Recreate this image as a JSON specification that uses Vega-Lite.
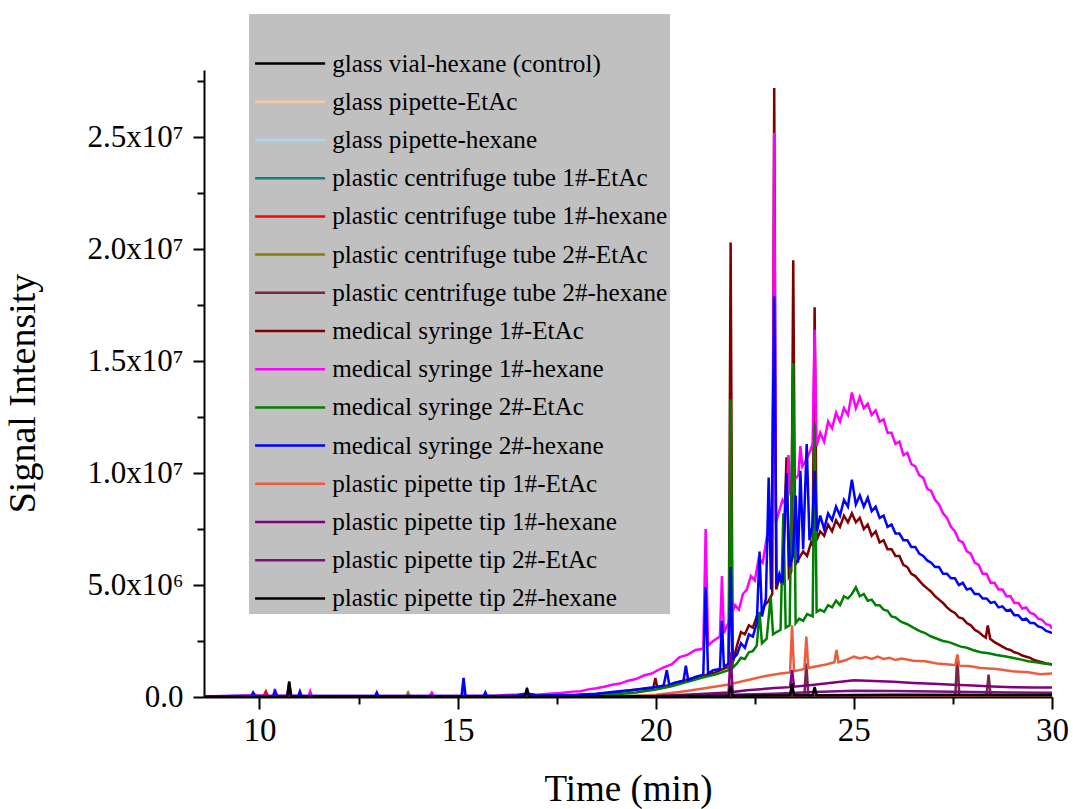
{
"$schema": "https://vega.github.io/schema/vega-lite/v6.json",
"width": 848, "height": 627,
"autosize": {"type": "none"},
"padding": {"left": 204, "top": 70, "right": 21, "bottom": 112},
"background": "white",
"config": {"view": {"stroke": null}, "font": "Liberation Serif"},
"data": {"values": [
{"id":"GV","t":8.6,"v":2e4},{"id":"GV","t":12,"v":3e4},{"id":"GV","t":16,"v":3e4},{"id":"GV","t":20,"v":5e4},{"id":"GV","t":23,"v":6e4},{"id":"GV","t":26,"v":6e4},{"id":"GV","t":30,"v":5e4},
{"id":"GPE","t":8.6,"v":1e4},{"id":"GPE","t":14,"v":2e4},{"id":"GPE","t":20,"v":4e4},{"id":"GPE","t":25,"v":5e4},{"id":"GPE","t":30,"v":4e4},
{"id":"GPH","t":8.6,"v":1e4},{"id":"GPH","t":15,"v":2e4},{"id":"GPH","t":22,"v":4e4},{"id":"GPH","t":30,"v":3e4},
{"id":"C1E","t":8.6,"v":1e4},{"id":"C1E","t":15,"v":2e4},{"id":"C1E","t":22,"v":5e4},{"id":"C1E","t":26,"v":6e4},{"id":"C1E","t":30,"v":5e4},
{"id":"C1H","t":8.6,"v":1e4},{"id":"C1H","t":10.1,"v":2e4},{"id":"C1H","t":10.16,"v":2.5e5},{"id":"C1H","t":10.22,"v":2e4},{"id":"C1H","t":14,"v":2e4},{"id":"C1H","t":22,"v":4e4},{"id":"C1H","t":30,"v":4e4},
{"id":"C2E","t":8.6,"v":1e4},{"id":"C2E","t":13.7,"v":2e4},{"id":"C2E","t":13.75,"v":2e5},{"id":"C2E","t":13.8,"v":2e4},{"id":"C2E","t":22,"v":5e4},{"id":"C2E","t":26,"v":7e4},{"id":"C2E","t":30,"v":6e4},
{"id":"C2H","t":8.6,"v":1e4},{"id":"C2H","t":20,"v":3e4},{"id":"C2H","t":23.75,"v":5e4},{"id":"C2H","t":23.8,"v":1.5e6},{"id":"C2H","t":23.85,"v":5e4},{"id":"C2H","t":27.56,"v":8e4},{"id":"C2H","t":27.61,"v":1.85e6},{"id":"C2H","t":27.66,"v":8e4},{"id":"C2H","t":28.35,"v":8e4},{"id":"C2H","t":28.4,"v":1.0e6},{"id":"C2H","t":28.45,"v":8e4},{"id":"C2H","t":30,"v":8e4},
{"id":"S1E","t":8.6,"v":1e4},{"id":"S1E","t":10.7,"v":2e4},{"id":"S1E","t":10.75,"v":5e5},{"id":"S1E","t":10.8,"v":2e4},{"id":"S1E","t":12,"v":2e4},{"id":"S1E","t":15,"v":3e4},{"id":"S1E","t":16.7,"v":3e4},{"id":"S1E","t":16.75,"v":3e5},{"id":"S1E","t":16.8,"v":3e4},{"id":"S1E","t":17.5,"v":5e4},{"id":"S1E","t":18.0,"v":8e4},{"id":"S1E","t":18.5,"v":1.3e5},{"id":"S1E","t":19.0,"v":2.0e5},{"id":"S1E","t":19.5,"v":3.3e5},{"id":"S1E","t":19.94,"v":4.0e5},{"id":"S1E","t":19.99,"v":8.5e5},{"id":"S1E","t":20.04,"v":4.3e5},{"id":"S1E","t":20.3,"v":5.2e5},{"id":"S1E","t":20.6,"v":6.8e5},{"id":"S1E","t":20.9,"v":8.3e5},{"id":"S1E","t":21.2,"v":9.5e5},{"id":"S1E","t":21.5,"v":1.1e6},{"id":"S1E","t":21.84,"v":1.35e6},{"id":"S1E","t":21.89,"v":2.03e7},{"id":"S1E","t":21.94,"v":1.5e6},{"id":"S1E","t":22.05,"v":2.3e6},{"id":"S1E","t":22.15,"v":2.9e6},{"id":"S1E","t":22.25,"v":2.8e6},{"id":"S1E","t":22.35,"v":3.2e6},{"id":"S1E","t":22.45,"v":3.1e6},{"id":"S1E","t":22.55,"v":3.6e6},{"id":"S1E","t":22.65,"v":3.7e6},{"id":"S1E","t":22.75,"v":4.1e6},{"id":"S1E","t":22.85,"v":4.3e6},{"id":"S1E","t":22.94,"v":4.6e6},{"id":"S1E","t":22.99,"v":2.72e7},{"id":"S1E","t":23.04,"v":4.8e6},{"id":"S1E","t":23.12,"v":5.3e6},{"id":"S1E","t":23.2,"v":5.0e6},{"id":"S1E","t":23.3,"v":1.07e7},{"id":"S1E","t":23.36,"v":5.4e6},{"id":"S1E","t":23.42,"v":5.6e6},{"id":"S1E","t":23.47,"v":1.95e7},{"id":"S1E","t":23.52,"v":5.9e6},{"id":"S1E","t":23.62,"v":6.2e6},{"id":"S1E","t":23.72,"v":6.5e6},{"id":"S1E","t":23.82,"v":6.3e6},{"id":"S1E","t":23.92,"v":6.9e6},{"id":"S1E","t":23.96,"v":6.8e6},{"id":"S1E","t":24.01,"v":1.74e7},{"id":"S1E","t":24.06,"v":7.0e6},{"id":"S1E","t":24.15,"v":7.4e6},{"id":"S1E","t":24.25,"v":7.2e6},{"id":"S1E","t":24.35,"v":7.7e6},{"id":"S1E","t":24.45,"v":7.4e6},{"id":"S1E","t":24.55,"v":7.9e6},{"id":"S1E","t":24.65,"v":7.6e6},{"id":"S1E","t":24.75,"v":8.1e6},{"id":"S1E","t":24.85,"v":7.8e6},{"id":"S1E","t":24.95,"v":8.2e6},{"id":"S1E","t":25.05,"v":7.8e6},{"id":"S1E","t":25.15,"v":8.0e6},{"id":"S1E","t":25.25,"v":7.5e6},{"id":"S1E","t":25.35,"v":7.7e6},{"id":"S1E","t":25.45,"v":7.2e6},{"id":"S1E","t":25.55,"v":7.4e6},{"id":"S1E","t":25.65,"v":6.9e6},{"id":"S1E","t":25.75,"v":7.0e6},{"id":"S1E","t":25.85,"v":6.6e6},{"id":"S1E","t":25.95,"v":6.6e6},{"id":"S1E","t":26.05,"v":6.3e6},{"id":"S1E","t":26.15,"v":6.3e6},{"id":"S1E","t":26.25,"v":5.9e6},{"id":"S1E","t":26.35,"v":5.8e6},{"id":"S1E","t":26.45,"v":5.5e6},{"id":"S1E","t":26.55,"v":5.4e6},{"id":"S1E","t":26.65,"v":5.2e6},{"id":"S1E","t":26.75,"v":5.0e6},{"id":"S1E","t":26.85,"v":4.85e6},{"id":"S1E","t":26.95,"v":4.7e6},{"id":"S1E","t":27.05,"v":4.5e6},{"id":"S1E","t":27.15,"v":4.35e6},{"id":"S1E","t":27.25,"v":4.2e6},{"id":"S1E","t":27.35,"v":4.0e6},{"id":"S1E","t":27.45,"v":3.85e6},{"id":"S1E","t":27.55,"v":3.75e6},{"id":"S1E","t":27.65,"v":3.55e6},{"id":"S1E","t":27.75,"v":3.5e6},{"id":"S1E","t":27.85,"v":3.3e6},{"id":"S1E","t":27.95,"v":3.2e6},{"id":"S1E","t":28.05,"v":3.0e6},{"id":"S1E","t":28.15,"v":2.9e6},{"id":"S1E","t":28.25,"v":2.75e6},{"id":"S1E","t":28.33,"v":2.65e6},{"id":"S1E","t":28.38,"v":3.2e6},{"id":"S1E","t":28.44,"v":2.6e6},{"id":"S1E","t":28.55,"v":2.45e6},{"id":"S1E","t":28.65,"v":2.35e6},{"id":"S1E","t":28.75,"v":2.25e6},{"id":"S1E","t":28.85,"v":2.15e6},{"id":"S1E","t":28.95,"v":2.1e6},{"id":"S1E","t":29.05,"v":2.0e6},{"id":"S1E","t":29.15,"v":1.95e6},{"id":"S1E","t":29.25,"v":1.85e6},{"id":"S1E","t":29.35,"v":1.8e6},{"id":"S1E","t":29.45,"v":1.75e6},{"id":"S1E","t":29.55,"v":1.65e6},{"id":"S1E","t":29.65,"v":1.6e6},{"id":"S1E","t":29.75,"v":1.55e6},{"id":"S1E","t":29.85,"v":1.5e6},{"id":"S1E","t":29.95,"v":1.47e6},{"id":"S1E","t":30.0,"v":1.45e6},
{"id":"S1H","t":8.6,"v":3e4},{"id":"S1H","t":9.2,"v":5e4},{"id":"S1H","t":9.84,"v":8e4},{"id":"S1H","t":10.2,"v":5e4},{"id":"S1H","t":10.35,"v":6e4},{"id":"S1H","t":10.39,"v":3.5e5},{"id":"S1H","t":10.43,"v":6e4},{"id":"S1H","t":10.7,"v":7e4},{"id":"S1H","t":10.75,"v":6e5},{"id":"S1H","t":10.8,"v":7e4},{"id":"S1H","t":11.24,"v":5e4},{"id":"S1H","t":11.28,"v":2.5e5},{"id":"S1H","t":11.32,"v":5e4},{"id":"S1H","t":12.0,"v":4e4},{"id":"S1H","t":13.0,"v":5e4},{"id":"S1H","t":14.3,"v":6e4},{"id":"S1H","t":14.35,"v":2e5},{"id":"S1H","t":14.4,"v":6e4},{"id":"S1H","t":15.1,"v":5e4},{"id":"S1H","t":15.15,"v":3e5},{"id":"S1H","t":15.2,"v":5e4},{"id":"S1H","t":16.0,"v":7e4},{"id":"S1H","t":16.5,"v":1.1e5},{"id":"S1H","t":16.75,"v":1.5e5},{"id":"S1H","t":17.0,"v":1.0e5},{"id":"S1H","t":17.3,"v":1.4e5},{"id":"S1H","t":17.6,"v":1.8e5},{"id":"S1H","t":17.9,"v":2.4e5},{"id":"S1H","t":18.1,"v":2.6e5},{"id":"S1H","t":18.3,"v":3.4e5},{"id":"S1H","t":18.5,"v":3.9e5},{"id":"S1H","t":18.7,"v":4.6e5},{"id":"S1H","t":18.9,"v":5.5e5},{"id":"S1H","t":19.1,"v":6.0e5},{"id":"S1H","t":19.3,"v":7.3e5},{"id":"S1H","t":19.5,"v":8.0e5},{"id":"S1H","t":19.7,"v":9.6e5},{"id":"S1H","t":19.9,"v":1.05e6},{"id":"S1H","t":20.0,"v":1.15e6},{"id":"S1H","t":20.2,"v":1.32e6},{"id":"S1H","t":20.4,"v":1.45e6},{"id":"S1H","t":20.6,"v":1.78e6},{"id":"S1H","t":20.8,"v":1.88e6},{"id":"S1H","t":21.0,"v":2.1e6},{"id":"S1H","t":21.2,"v":2.15e6},{"id":"S1H","t":21.26,"v":7.5e6},{"id":"S1H","t":21.32,"v":2.3e6},{"id":"S1H","t":21.45,"v":2.5e6},{"id":"S1H","t":21.62,"v":2.7e6},{"id":"S1H","t":21.67,"v":5.4e6},{"id":"S1H","t":21.72,"v":2.85e6},{"id":"S1H","t":21.85,"v":3.4e6},{"id":"S1H","t":22.0,"v":4.1e6},{"id":"S1H","t":22.1,"v":3.9e6},{"id":"S1H","t":22.2,"v":4.6e6},{"id":"S1H","t":22.3,"v":4.8e6},{"id":"S1H","t":22.4,"v":5.4e6},{"id":"S1H","t":22.5,"v":5.2e6},{"id":"S1H","t":22.6,"v":6.2e6},{"id":"S1H","t":22.7,"v":6.0e6},{"id":"S1H","t":22.8,"v":7.1e6},{"id":"S1H","t":22.9,"v":6.9e6},{"id":"S1H","t":22.95,"v":7.6e6},{"id":"S1H","t":22.99,"v":2.52e7},{"id":"S1H","t":23.03,"v":7.8e6},{"id":"S1H","t":23.1,"v":8.2e6},{"id":"S1H","t":23.2,"v":8.8e6},{"id":"S1H","t":23.3,"v":8.5e6},{"id":"S1H","t":23.35,"v":1.08e7},{"id":"S1H","t":23.4,"v":9.0e6},{"id":"S1H","t":23.5,"v":9.7e6},{"id":"S1H","t":23.6,"v":9.9e6},{"id":"S1H","t":23.65,"v":1.12e7},{"id":"S1H","t":23.7,"v":1.03e7},{"id":"S1H","t":23.8,"v":1.06e7},{"id":"S1H","t":23.9,"v":1.1e7},{"id":"S1H","t":23.96,"v":1.13e7},{"id":"S1H","t":24.01,"v":1.64e7},{"id":"S1H","t":24.06,"v":1.12e7},{"id":"S1H","t":24.15,"v":1.18e7},{"id":"S1H","t":24.25,"v":1.14e7},{"id":"S1H","t":24.35,"v":1.23e7},{"id":"S1H","t":24.45,"v":1.2e7},{"id":"S1H","t":24.55,"v":1.27e7},{"id":"S1H","t":24.65,"v":1.23e7},{"id":"S1H","t":24.75,"v":1.29e7},{"id":"S1H","t":24.85,"v":1.26e7},{"id":"S1H","t":24.95,"v":1.36e7},{"id":"S1H","t":25.05,"v":1.29e7},{"id":"S1H","t":25.15,"v":1.34e7},{"id":"S1H","t":25.25,"v":1.29e7},{"id":"S1H","t":25.35,"v":1.31e7},{"id":"S1H","t":25.45,"v":1.26e7},{"id":"S1H","t":25.55,"v":1.28e7},{"id":"S1H","t":25.65,"v":1.23e7},{"id":"S1H","t":25.75,"v":1.24e7},{"id":"S1H","t":25.85,"v":1.18e7},{"id":"S1H","t":25.95,"v":1.18e7},{"id":"S1H","t":26.05,"v":1.13e7},{"id":"S1H","t":26.15,"v":1.14e7},{"id":"S1H","t":26.25,"v":1.08e7},{"id":"S1H","t":26.35,"v":1.09e7},{"id":"S1H","t":26.45,"v":1.04e7},{"id":"S1H","t":26.55,"v":1.03e7},{"id":"S1H","t":26.65,"v":9.9e6},{"id":"S1H","t":26.75,"v":9.8e6},{"id":"S1H","t":26.85,"v":9.3e6},{"id":"S1H","t":26.95,"v":9.2e6},{"id":"S1H","t":27.05,"v":8.8e6},{"id":"S1H","t":27.15,"v":8.6e6},{"id":"S1H","t":27.25,"v":8.2e6},{"id":"S1H","t":27.35,"v":8.0e6},{"id":"S1H","t":27.45,"v":7.6e6},{"id":"S1H","t":27.55,"v":7.4e6},{"id":"S1H","t":27.65,"v":7.0e6},{"id":"S1H","t":27.75,"v":6.9e6},{"id":"S1H","t":27.85,"v":6.5e6},{"id":"S1H","t":27.95,"v":6.4e6},{"id":"S1H","t":28.05,"v":6.0e6},{"id":"S1H","t":28.15,"v":5.9e6},{"id":"S1H","t":28.25,"v":5.5e6},{"id":"S1H","t":28.35,"v":5.5e6},{"id":"S1H","t":28.45,"v":5.1e6},{"id":"S1H","t":28.55,"v":5.1e6},{"id":"S1H","t":28.65,"v":4.8e6},{"id":"S1H","t":28.75,"v":4.8e6},{"id":"S1H","t":28.85,"v":4.5e6},{"id":"S1H","t":28.95,"v":4.5e6},{"id":"S1H","t":29.05,"v":4.2e6},{"id":"S1H","t":29.15,"v":4.2e6},{"id":"S1H","t":29.25,"v":3.95e6},{"id":"S1H","t":29.35,"v":4.0e6},{"id":"S1H","t":29.45,"v":3.75e6},{"id":"S1H","t":29.55,"v":3.7e6},{"id":"S1H","t":29.65,"v":3.5e6},{"id":"S1H","t":29.75,"v":3.45e6},{"id":"S1H","t":29.85,"v":3.25e6},{"id":"S1H","t":29.95,"v":3.2e6},{"id":"S1H","t":30.0,"v":3.05e6},
{"id":"S2E","t":8.6,"v":1e4},{"id":"S2E","t":12,"v":2e4},{"id":"S2E","t":16,"v":3e4},{"id":"S2E","t":18,"v":5e4},{"id":"S2E","t":18.5,"v":8e4},{"id":"S2E","t":19,"v":1.2e5},{"id":"S2E","t":19.5,"v":2.0e5},{"id":"S2E","t":20.0,"v":3.3e5},{"id":"S2E","t":20.4,"v":4.8e5},{"id":"S2E","t":20.8,"v":6.8e5},{"id":"S2E","t":21.2,"v":8.8e5},{"id":"S2E","t":21.5,"v":1.0e6},{"id":"S2E","t":21.84,"v":1.2e6},{"id":"S2E","t":21.89,"v":1.33e7},{"id":"S2E","t":21.94,"v":1.3e6},{"id":"S2E","t":22.05,"v":1.5e6},{"id":"S2E","t":22.15,"v":1.75e6},{"id":"S2E","t":22.25,"v":1.7e6},{"id":"S2E","t":22.35,"v":2.0e6},{"id":"S2E","t":22.45,"v":2.05e6},{"id":"S2E","t":22.55,"v":2.3e6},{"id":"S2E","t":22.62,"v":3.8e6},{"id":"S2E","t":22.68,"v":2.4e6},{"id":"S2E","t":22.8,"v":2.6e6},{"id":"S2E","t":22.9,"v":4.5e6},{"id":"S2E","t":22.96,"v":2.8e6},{"id":"S2E","t":23.05,"v":2.9e6},{"id":"S2E","t":23.15,"v":3.0e6},{"id":"S2E","t":23.22,"v":8.2e6},{"id":"S2E","t":23.28,"v":3.1e6},{"id":"S2E","t":23.38,"v":3.2e6},{"id":"S2E","t":23.47,"v":1.49e7},{"id":"S2E","t":23.53,"v":3.3e6},{"id":"S2E","t":23.62,"v":3.5e6},{"id":"S2E","t":23.72,"v":3.4e6},{"id":"S2E","t":23.82,"v":3.7e6},{"id":"S2E","t":23.96,"v":3.6e6},{"id":"S2E","t":24.01,"v":1.22e7},{"id":"S2E","t":24.06,"v":3.8e6},{"id":"S2E","t":24.15,"v":3.9e6},{"id":"S2E","t":24.25,"v":3.8e6},{"id":"S2E","t":24.35,"v":4.1e6},{"id":"S2E","t":24.45,"v":4.0e6},{"id":"S2E","t":24.55,"v":4.3e6},{"id":"S2E","t":24.65,"v":4.1e6},{"id":"S2E","t":24.75,"v":4.5e6},{"id":"S2E","t":24.85,"v":4.4e6},{"id":"S2E","t":24.95,"v":4.6e6},{"id":"S2E","t":25.05,"v":4.9e6},{"id":"S2E","t":25.15,"v":4.5e6},{"id":"S2E","t":25.25,"v":4.6e6},{"id":"S2E","t":25.35,"v":4.3e6},{"id":"S2E","t":25.45,"v":4.35e6},{"id":"S2E","t":25.55,"v":4.1e6},{"id":"S2E","t":25.65,"v":4.1e6},{"id":"S2E","t":25.75,"v":3.9e6},{"id":"S2E","t":25.85,"v":3.85e6},{"id":"S2E","t":25.95,"v":3.6e6},{"id":"S2E","t":26.05,"v":3.55e6},{"id":"S2E","t":26.2,"v":3.35e6},{"id":"S2E","t":26.35,"v":3.25e6},{"id":"S2E","t":26.5,"v":3.1e6},{"id":"S2E","t":26.65,"v":2.95e6},{"id":"S2E","t":26.8,"v":2.85e6},{"id":"S2E","t":26.95,"v":2.7e6},{"id":"S2E","t":27.1,"v":2.6e6},{"id":"S2E","t":27.25,"v":2.5e6},{"id":"S2E","t":27.4,"v":2.45e6},{"id":"S2E","t":27.55,"v":2.35e6},{"id":"S2E","t":27.7,"v":2.25e6},{"id":"S2E","t":27.85,"v":2.2e6},{"id":"S2E","t":28.0,"v":2.1e6},{"id":"S2E","t":28.2,"v":2.0e6},{"id":"S2E","t":28.4,"v":1.95e6},{"id":"S2E","t":28.6,"v":1.88e6},{"id":"S2E","t":28.8,"v":1.82e6},{"id":"S2E","t":29.0,"v":1.75e6},{"id":"S2E","t":29.2,"v":1.68e6},{"id":"S2E","t":29.4,"v":1.6e6},{"id":"S2E","t":29.6,"v":1.55e6},{"id":"S2E","t":29.8,"v":1.5e6},{"id":"S2E","t":30.0,"v":1.45e6},
{"id":"S2H","t":8.6,"v":2e4},{"id":"S2H","t":9.3,"v":4e4},{"id":"S2H","t":9.8,"v":5e4},{"id":"S2H","t":9.84,"v":2e5},{"id":"S2H","t":9.9,"v":5e4},{"id":"S2H","t":10.35,"v":5e4},{"id":"S2H","t":10.39,"v":2.5e5},{"id":"S2H","t":10.45,"v":5e4},{"id":"S2H","t":10.7,"v":5e4},{"id":"S2H","t":10.75,"v":3e5},{"id":"S2H","t":10.8,"v":5e4},{"id":"S2H","t":10.98,"v":5e4},{"id":"S2H","t":11.02,"v":2.5e5},{"id":"S2H","t":11.06,"v":5e4},{"id":"S2H","t":12.0,"v":4e4},{"id":"S2H","t":12.92,"v":4e4},{"id":"S2H","t":12.96,"v":2e5},{"id":"S2H","t":13.0,"v":4e4},{"id":"S2H","t":14.0,"v":5e4},{"id":"S2H","t":15.1,"v":5e4},{"id":"S2H","t":15.15,"v":8.5e5},{"id":"S2H","t":15.2,"v":5e4},{"id":"S2H","t":15.66,"v":5e4},{"id":"S2H","t":15.7,"v":2e5},{"id":"S2H","t":15.74,"v":5e4},{"id":"S2H","t":16.5,"v":6e4},{"id":"S2H","t":16.75,"v":1.5e5},{"id":"S2H","t":17.0,"v":7e4},{"id":"S2H","t":17.5,"v":8e4},{"id":"S2H","t":18.0,"v":1.0e5},{"id":"S2H","t":18.5,"v":1.5e5},{"id":"S2H","t":18.9,"v":2.2e5},{"id":"S2H","t":19.2,"v":2.8e5},{"id":"S2H","t":19.5,"v":3.2e5},{"id":"S2H","t":19.8,"v":4.0e5},{"id":"S2H","t":20.0,"v":4.5e5},{"id":"S2H","t":20.2,"v":5.2e5},{"id":"S2H","t":20.28,"v":1.2e6},{"id":"S2H","t":20.34,"v":5.5e5},{"id":"S2H","t":20.5,"v":6.5e5},{"id":"S2H","t":20.7,"v":7.2e5},{"id":"S2H","t":20.76,"v":1.4e6},{"id":"S2H","t":20.82,"v":7.5e5},{"id":"S2H","t":21.0,"v":9.0e5},{"id":"S2H","t":21.2,"v":1.0e6},{"id":"S2H","t":21.26,"v":4.9e6},{"id":"S2H","t":21.32,"v":1.05e6},{"id":"S2H","t":21.45,"v":1.2e6},{"id":"S2H","t":21.62,"v":1.25e6},{"id":"S2H","t":21.67,"v":3.4e6},{"id":"S2H","t":21.72,"v":1.35e6},{"id":"S2H","t":21.84,"v":1.5e6},{"id":"S2H","t":21.89,"v":5.8e6},{"id":"S2H","t":21.94,"v":1.7e6},{"id":"S2H","t":22.05,"v":1.9e6},{"id":"S2H","t":22.15,"v":2.4e6},{"id":"S2H","t":22.25,"v":2.2e6},{"id":"S2H","t":22.35,"v":2.8e6},{"id":"S2H","t":22.45,"v":2.7e6},{"id":"S2H","t":22.55,"v":3.3e6},{"id":"S2H","t":22.62,"v":6.5e6},{"id":"S2H","t":22.68,"v":3.6e6},{"id":"S2H","t":22.78,"v":4.4e6},{"id":"S2H","t":22.85,"v":9.8e6},{"id":"S2H","t":22.91,"v":4.8e6},{"id":"S2H","t":22.99,"v":1.79e7},{"id":"S2H","t":23.05,"v":5.0e6},{"id":"S2H","t":23.12,"v":5.5e6},{"id":"S2H","t":23.2,"v":5.1e6},{"id":"S2H","t":23.3,"v":1.0e7},{"id":"S2H","t":23.38,"v":5.8e6},{"id":"S2H","t":23.46,"v":6.3e6},{"id":"S2H","t":23.53,"v":9.0e6},{"id":"S2H","t":23.59,"v":6.0e6},{"id":"S2H","t":23.65,"v":1.01e7},{"id":"S2H","t":23.72,"v":6.6e6},{"id":"S2H","t":23.81,"v":1.13e7},{"id":"S2H","t":23.88,"v":7.0e6},{"id":"S2H","t":23.95,"v":7.6e6},{"id":"S2H","t":24.01,"v":1.01e7},{"id":"S2H","t":24.07,"v":7.4e6},{"id":"S2H","t":24.15,"v":8.1e6},{"id":"S2H","t":24.25,"v":7.5e6},{"id":"S2H","t":24.35,"v":8.2e6},{"id":"S2H","t":24.45,"v":7.9e6},{"id":"S2H","t":24.55,"v":8.5e6},{"id":"S2H","t":24.65,"v":8.1e6},{"id":"S2H","t":24.75,"v":8.8e6},{"id":"S2H","t":24.85,"v":8.5e6},{"id":"S2H","t":24.95,"v":9.7e6},{"id":"S2H","t":25.05,"v":8.6e6},{"id":"S2H","t":25.15,"v":9.0e6},{"id":"S2H","t":25.25,"v":8.5e6},{"id":"S2H","t":25.35,"v":8.9e6},{"id":"S2H","t":25.45,"v":8.3e6},{"id":"S2H","t":25.55,"v":8.5e6},{"id":"S2H","t":25.65,"v":8.0e6},{"id":"S2H","t":25.75,"v":8.1e6},{"id":"S2H","t":25.85,"v":7.6e6},{"id":"S2H","t":25.95,"v":7.7e6},{"id":"S2H","t":26.05,"v":7.3e6},{"id":"S2H","t":26.15,"v":7.3e6},{"id":"S2H","t":26.25,"v":7.0e6},{"id":"S2H","t":26.35,"v":7.0e6},{"id":"S2H","t":26.45,"v":6.7e6},{"id":"S2H","t":26.55,"v":6.7e6},{"id":"S2H","t":26.65,"v":6.4e6},{"id":"S2H","t":26.75,"v":6.3e6},{"id":"S2H","t":26.85,"v":6.1e6},{"id":"S2H","t":26.95,"v":6.0e6},{"id":"S2H","t":27.05,"v":5.8e6},{"id":"S2H","t":27.15,"v":5.8e6},{"id":"S2H","t":27.25,"v":5.5e6},{"id":"S2H","t":27.35,"v":5.5e6},{"id":"S2H","t":27.45,"v":5.3e6},{"id":"S2H","t":27.55,"v":5.3e6},{"id":"S2H","t":27.65,"v":5.0e6},{"id":"S2H","t":27.75,"v":5.1e6},{"id":"S2H","t":27.85,"v":4.8e6},{"id":"S2H","t":27.95,"v":4.85e6},{"id":"S2H","t":28.05,"v":4.6e6},{"id":"S2H","t":28.15,"v":4.6e6},{"id":"S2H","t":28.25,"v":4.4e6},{"id":"S2H","t":28.35,"v":4.4e6},{"id":"S2H","t":28.45,"v":4.2e6},{"id":"S2H","t":28.55,"v":4.25e6},{"id":"S2H","t":28.65,"v":4.0e6},{"id":"S2H","t":28.75,"v":4.05e6},{"id":"S2H","t":28.85,"v":3.85e6},{"id":"S2H","t":28.95,"v":3.9e6},{"id":"S2H","t":29.05,"v":3.65e6},{"id":"S2H","t":29.15,"v":3.65e6},{"id":"S2H","t":29.25,"v":3.45e6},{"id":"S2H","t":29.35,"v":3.5e6},{"id":"S2H","t":29.45,"v":3.3e6},{"id":"S2H","t":29.55,"v":3.3e6},{"id":"S2H","t":29.65,"v":3.15e6},{"id":"S2H","t":29.75,"v":3.1e6},{"id":"S2H","t":29.85,"v":2.95e6},{"id":"S2H","t":29.95,"v":2.9e6},{"id":"S2H","t":30.0,"v":2.85e6},
{"id":"T1E","t":8.6,"v":1e4},{"id":"T1E","t":15,"v":1e4},{"id":"T1E","t":19.0,"v":3e4},{"id":"T1E","t":19.5,"v":5e4},{"id":"T1E","t":20.0,"v":1.0e5},{"id":"T1E","t":20.6,"v":2.2e5},{"id":"T1E","t":21.2,"v":3.8e5},{"id":"T1E","t":21.8,"v":5.5e5},{"id":"T1E","t":22.3,"v":7.5e5},{"id":"T1E","t":22.8,"v":9.5e5},{"id":"T1E","t":23.15,"v":1.05e6},{"id":"T1E","t":23.39,"v":1.1e6},{"id":"T1E","t":23.44,"v":3.2e6},{"id":"T1E","t":23.49,"v":1.15e6},{"id":"T1E","t":23.62,"v":1.2e6},{"id":"T1E","t":23.75,"v":1.25e6},{"id":"T1E","t":23.8,"v":2.7e6},{"id":"T1E","t":23.85,"v":1.3e6},{"id":"T1E","t":24.0,"v":1.35e6},{"id":"T1E","t":24.3,"v":1.45e6},{"id":"T1E","t":24.51,"v":1.55e6},{"id":"T1E","t":24.56,"v":2.1e6},{"id":"T1E","t":24.61,"v":1.55e6},{"id":"T1E","t":24.8,"v":1.65e6},{"id":"T1E","t":25.0,"v":1.8e6},{"id":"T1E","t":25.15,"v":1.72e6},{"id":"T1E","t":25.3,"v":1.78e6},{"id":"T1E","t":25.45,"v":1.7e6},{"id":"T1E","t":25.6,"v":1.8e6},{"id":"T1E","t":25.75,"v":1.7e6},{"id":"T1E","t":25.9,"v":1.75e6},{"id":"T1E","t":26.05,"v":1.65e6},{"id":"T1E","t":26.2,"v":1.72e6},{"id":"T1E","t":26.5,"v":1.62e6},{"id":"T1E","t":26.8,"v":1.6e6},{"id":"T1E","t":27.1,"v":1.5e6},{"id":"T1E","t":27.4,"v":1.45e6},{"id":"T1E","t":27.56,"v":1.42e6},{"id":"T1E","t":27.61,"v":1.9e6},{"id":"T1E","t":27.66,"v":1.4e6},{"id":"T1E","t":27.9,"v":1.38e6},{"id":"T1E","t":28.2,"v":1.3e6},{"id":"T1E","t":28.6,"v":1.25e6},{"id":"T1E","t":29.0,"v":1.15e6},{"id":"T1E","t":29.4,"v":1.1e6},{"id":"T1E","t":29.7,"v":1.02e6},{"id":"T1E","t":30.0,"v":1.05e6},
{"id":"T1H","t":8.6,"v":1e4},{"id":"T1H","t":18,"v":2e4},{"id":"T1H","t":20,"v":5e4},{"id":"T1H","t":21,"v":1.2e5},{"id":"T1H","t":21.84,"v":2.0e5},{"id":"T1H","t":21.89,"v":2.0e6},{"id":"T1H","t":21.94,"v":2.2e5},{"id":"T1H","t":22.3,"v":3.0e5},{"id":"T1H","t":23.0,"v":4.0e5},{"id":"T1H","t":23.39,"v":4.4e5},{"id":"T1H","t":23.44,"v":1.2e6},{"id":"T1H","t":23.49,"v":4.6e5},{"id":"T1H","t":24.0,"v":5.5e5},{"id":"T1H","t":24.5,"v":6.5e5},{"id":"T1H","t":25.0,"v":7.5e5},{"id":"T1H","t":25.5,"v":7.2e5},{"id":"T1H","t":26.0,"v":6.8e5},{"id":"T1H","t":26.5,"v":6.3e5},{"id":"T1H","t":27.0,"v":5.9e5},{"id":"T1H","t":27.5,"v":5.5e5},{"id":"T1H","t":28.0,"v":5.1e5},{"id":"T1H","t":28.5,"v":4.7e5},{"id":"T1H","t":29.0,"v":4.4e5},{"id":"T1H","t":29.5,"v":4.2e5},{"id":"T1H","t":30.0,"v":4.2e5},
{"id":"T2E","t":8.6,"v":1e4},{"id":"T2E","t":20,"v":3e4},{"id":"T2E","t":21,"v":6e4},{"id":"T2E","t":22,"v":1.0e5},{"id":"T2E","t":23,"v":1.5e5},{"id":"T2E","t":24,"v":2.2e5},{"id":"T2E","t":25,"v":2.8e5},{"id":"T2E","t":26,"v":2.7e5},{"id":"T2E","t":27,"v":2.5e5},{"id":"T2E","t":28,"v":2.2e5},{"id":"T2E","t":29,"v":2.0e5},{"id":"T2E","t":30,"v":1.9e5},
{"id":"T2H","t":8.6,"v":1e4},{"id":"T2H","t":10.7,"v":2e4},{"id":"T2H","t":10.75,"v":7e5},{"id":"T2H","t":10.8,"v":2e4},{"id":"T2H","t":16.7,"v":2e4},{"id":"T2H","t":16.75,"v":4e5},{"id":"T2H","t":16.8,"v":2e4},{"id":"T2H","t":20,"v":3e4},{"id":"T2H","t":21.84,"v":6e4},{"id":"T2H","t":21.89,"v":5e5},{"id":"T2H","t":21.94,"v":6e4},{"id":"T2H","t":23.39,"v":8e4},{"id":"T2H","t":23.44,"v":6e5},{"id":"T2H","t":23.49,"v":8e4},{"id":"T2H","t":23.96,"v":8e4},{"id":"T2H","t":24.01,"v":4.5e5},{"id":"T2H","t":24.06,"v":8e4},{"id":"T2H","t":26,"v":1.0e5},{"id":"T2H","t":30,"v":9e4}
]},
"transform": [{"lookup": "id", "from": {"data": {"values": [
{"id":"GV","name":"glass vial-hexane (control)"},
{"id":"GPE","name":"glass pipette-EtAc"},
{"id":"GPH","name":"glass pipette-hexane"},
{"id":"C1E","name":"plastic centrifuge tube 1#-EtAc"},
{"id":"C1H","name":"plastic centrifuge tube 1#-hexane"},
{"id":"C2E","name":"plastic centrifuge tube 2#-EtAc"},
{"id":"C2H","name":"plastic centrifuge tube 2#-hexane"},
{"id":"S1E","name":"medical syringe 1#-EtAc"},
{"id":"S1H","name":"medical syringe 1#-hexane"},
{"id":"S2E","name":"medical syringe 2#-EtAc"},
{"id":"S2H","name":"medical syringe 2#-hexane"},
{"id":"T1E","name":"plastic pipette tip 1#-EtAc"},
{"id":"T1H","name":"plastic pipette tip 1#-hexane"},
{"id":"T2E","name":"plastic pipette tip 2#-EtAc"},
{"id":"T2H","name":"plastic pipette tip 2#-hexane"}
]}, "key": "id", "fields": ["name"]}}],
"mark": {"type": "line", "strokeWidth": 2.5, "clip": true},
"encoding": {
  "x": {"field": "t", "type": "quantitative",
    "scale": {"domain": [8.6, 30], "nice": false, "zero": false},
    "axis": {"title": "Time (min)", "values": [10, 12.5, 15, 17.5, 20, 22.5, 25, 27.5, 30],
      "labelExpr": "datum.value % 5 == 0 ? format(datum.value, 'd') : ''",
      "grid": false, "domainColor": "#000", "domainWidth": 2, "tickColor": "#000", "tickWidth": 2,
      "tickSize": {"condition": {"test": "datum.value % 5 == 0", "value": 12}, "value": 7},
      "labelFont": "Liberation Serif", "labelFontSize": 33, "labelColor": "#000", "labelPadding": 5,
      "labelFlush": false, "labelOverlap": false,
      "titleFont": "Liberation Serif", "titleFontSize": 37, "titleFontWeight": "normal", "titleColor": "#000", "titlePadding": 24}},
  "y": {"field": "v", "type": "quantitative",
    "scale": {"domain": [0, 28000000], "nice": false},
    "axis": {"title": "Signal Intensity",
      "values": [0, 2500000, 5000000, 7500000, 10000000, 12500000, 15000000, 17500000, 20000000, 22500000, 25000000, 27500000],
      "labelExpr": "datum.value == 0 ? '0.0' : (datum.value % 5000000 != 0 ? '' : (datum.value < 9000000 ? format(datum.value / 1000000, '.1f') + 'x10⁶' : format(datum.value / 10000000, '.1f') + 'x10⁷'))",
      "grid": false, "domainColor": "#000", "domainWidth": 2, "tickColor": "#000", "tickWidth": 2,
      "tickSize": {"condition": {"test": "datum.value % 5000000 == 0", "value": 11}, "value": 7},
      "labelFont": "Liberation Serif", "labelFontSize": 31, "labelColor": "#000", "labelPadding": 10,
      "labelFlush": false, "labelOverlap": false,
      "titleFont": "Liberation Serif", "titleFontSize": 38, "titleFontWeight": "normal", "titleColor": "#000", "titlePadding": 44, "titleY": 323}},
  "color": {"field": "name", "type": "nominal",
    "scale": {"domain": ["glass vial-hexane (control)", "glass pipette-EtAc", "glass pipette-hexane", "plastic centrifuge tube 1#-EtAc", "plastic centrifuge tube 1#-hexane", "plastic centrifuge tube 2#-EtAc", "plastic centrifuge tube 2#-hexane", "medical syringe 1#-EtAc", "medical syringe 1#-hexane", "medical syringe 2#-EtAc", "medical syringe 2#-hexane", "plastic pipette tip 1#-EtAc", "plastic pipette tip 1#-hexane", "plastic pipette tip 2#-EtAc", "plastic pipette tip 2#-hexane"],
      "range": ["#000000", "#F8C99E", "#A8D8EE", "#0E8080", "#FF0000", "#808000", "#7A2545", "#800000", "#FF00FF", "#008000", "#0000FF", "#EE5C3E", "#800080", "#7D0F7D", "#000000"]},
    "legend": {"orient": "none", "legendX": 45, "legendY": -56, "title": " ", "titleFontSize": 22, "titlePadding": 13,
      "fillColor": "#c0c0c0", "padding": 2, "symbolType": "M-1.7,0H12.3", "symbolSize": 100, "symbolStrokeWidth": 2.5,
      "labelFont": "Liberation Serif", "labelFontSize": 25.2, "labelColor": "#000", "labelOffset": 56, "labelLimit": 600,
      "rowPadding": 12.2}}
}
}
